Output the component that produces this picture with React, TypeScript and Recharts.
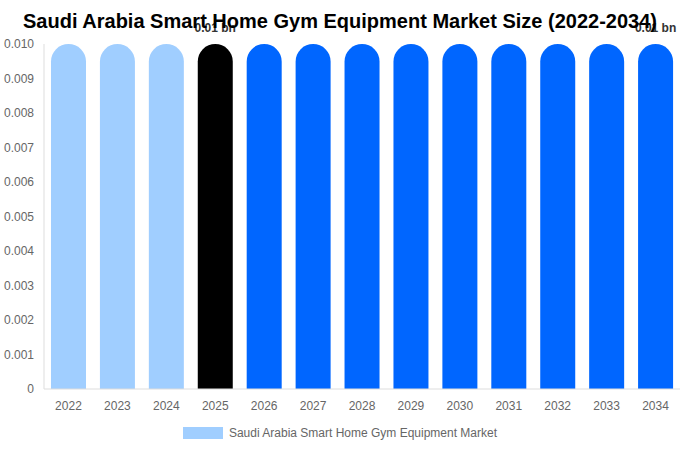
import React from 'react'
import { BarChart, Bar, XAxis, YAxis, Cell, Legend, LabelList } from 'recharts'

const years = ['2022', '2023', '2024', '2025', '2026', '2027', '2028', '2029', '2030', '2031', '2032', '2033', '2034']
const marketSize = [0.01, 0.01, 0.01, 0.01, 0.01, 0.01, 0.01, 0.01, 0.01, 0.01, 0.01, 0.01, 0.01]
const labelledYears = ['2025', '2034']
const yTicks = [0, 0.001, 0.002, 0.003, 0.004, 0.005, 0.006, 0.007, 0.008, 0.009, 0.01]

const HISTORIC = '#a0ceff'
const CURRENT = '#000000'
const FORECAST = '#0066ff'

const data = years.map((year, i) => ({ year, value: marketSize[i] }))

function barColor(year: string) {
  if (year < '2025') return HISTORIC
  if (year === '2025') return CURRENT
  return FORECAST
}

const FONT = '"Liberation Sans", Arial, sans-serif'

function ValueLabel(props: any) {
  const { x, y, width, index } = props
  if (!labelledYears.includes(years[index])) return null
  return (
    <text
      x={x + width / 2}
      y={y - 15}
      textAnchor="middle"
      dominantBaseline="middle"
      fontSize={12}
      fontWeight="bold"
      fill="#333"
      fontFamily={FONT}
    >
      {`${marketSize[index]} bn`}
    </text>
  )
}

function LegendContent() {
  return (
    <div style={{ display: 'flex', justifyContent: 'center', alignItems: 'center', fontFamily: FONT }}>
      <span style={{ width: 40, height: 12, background: HISTORIC, display: 'inline-block', marginRight: 6 }} />
      <span style={{ fontSize: 12, color: '#666' }}>Saudi Arabia Smart Home Gym Equipment Market</span>
    </div>
  )
}

export default function App() {
  return (
    <div style={{ position: 'absolute', left: 0, top: 0, width: 680, height: 450, background: '#fff', fontFamily: FONT }}>
      <div style={{ position: 'absolute', left: 0, top: 0 }}>
        <BarChart width={680} height={450} data={data} margin={{ top: 44, right: 0, bottom: 31, left: 0 }} barSize={35}>
          <XAxis
            dataKey="year"
            tick={{ fontSize: 12, fill: '#666', fontFamily: FONT }}
            tickLine={false}
            axisLine={{ stroke: '#ddd' }}
            tickMargin={6}
          />
          <YAxis
            width={44}
            domain={[0, 0.01]}
            ticks={yTicks}
            tickFormatter={(v: number) => (v === 0 ? '0' : v.toFixed(3))}
            tick={{ fontSize: 12, fill: '#666', fontFamily: FONT }}
            tickLine={false}
            axisLine={{ stroke: '#ddd' }}
            tickMargin={4}
          />
          <Legend
            verticalAlign="middle"
            layout="horizontal"
            content={<LegendContent />}
            wrapperStyle={{ top: 426, left: 0, width: 680 }}
          />
          <Bar dataKey="value" radius={[17.5, 17.5, 0, 0]} isAnimationActive={false}>
            {data.map((d) => (
              <Cell key={d.year} fill={barColor(d.year)} />
            ))}
            <LabelList dataKey="value" content={<ValueLabel />} />
          </Bar>
        </BarChart>
      </div>
      <div
        style={{
          position: 'absolute', top: 9, left: 0, width: 680, textAlign: 'center',
          fontSize: 20, fontWeight: 'bold', color: '#000', lineHeight: '24px', pointerEvents: 'none',
        }}
      >
        Saudi Arabia Smart Home Gym Equipment Market Size (2022-2034)
      </div>
    </div>
  )
}
